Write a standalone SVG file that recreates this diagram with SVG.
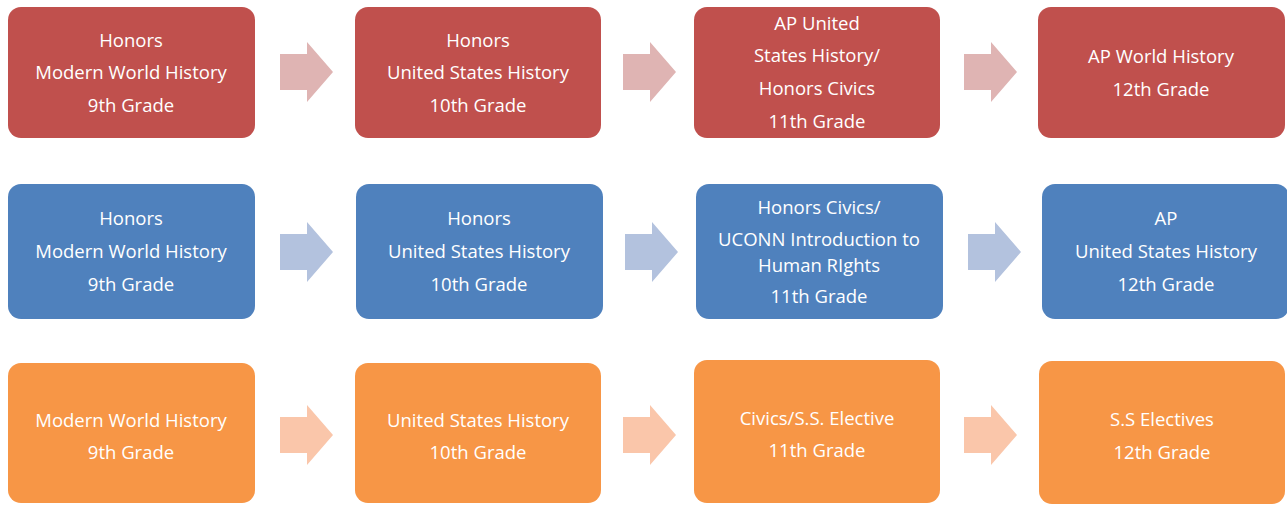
<svg xmlns="http://www.w3.org/2000/svg" width="1287" height="506" viewBox="0 0 1287 506">
<defs>
<style>
text{font-family:"Open Sans","Liberation Sans",sans-serif;font-size:18.5px;fill:#fff;text-anchor:middle}
.r{fill:#C0504D}.b{fill:#4F81BD}.o{fill:#F79646}
.ar{fill:#DFB4B3}.ab{fill:#B3C2DE}.ao{fill:#FAC6AA}
</style>
<path id="arr" d="M0,12 H27 V0 L53,30 L27,60 V48 H0 Z"/>
</defs>
<rect width="1287" height="506" fill="#fff"/>
<g id="connectors">
<use href="#arr" class="ar" transform="translate(280,42)"/>
<use href="#arr" class="ar" transform="translate(623,42)"/>
<use href="#arr" class="ar" transform="translate(964,42)"/>
<use href="#arr" class="ab" transform="translate(280,222)"/>
<use href="#arr" class="ab" transform="translate(625,222)"/>
<use href="#arr" class="ab" transform="translate(968,222)"/>
<use href="#arr" class="ao" transform="translate(280,405)"/>
<use href="#arr" class="ao" transform="translate(623,405)"/>
<use href="#arr" class="ao" transform="translate(964,405)"/>
</g>
<g id="r1c1"><rect class="r" x="8" y="7" width="247" height="131" rx="13"/><text x="131" y="46.5">Honors</text><text x="131" y="79">Modern World History</text><text x="131" y="111.5">9th Grade</text></g>
<g id="r1c2"><rect class="r" x="355" y="7" width="246" height="131" rx="13"/><text x="478" y="46.5">Honors</text><text x="478" y="79">United States History</text><text x="478" y="111.5">10th Grade</text></g>
<g id="r1c3"><rect class="r" x="694" y="7" width="246" height="131" rx="13"/><text x="817" y="29.5">AP United</text><text x="817" y="62">States History/</text><text x="817" y="94.5">Honors Civics</text><text x="817" y="127.5">11th Grade</text></g>
<g id="r1c4"><rect class="r" x="1038" y="7" width="247" height="131" rx="13"/><text x="1161" y="62.5">AP World History</text><text x="1161" y="95.5">12th Grade</text></g>
<g id="r2c1"><rect class="b" x="8" y="184" width="247" height="135" rx="13"/><text x="131" y="224.5">Honors</text><text x="131" y="257.5">Modern World History</text><text x="131" y="290.5">9th Grade</text></g>
<g id="r2c2"><rect class="b" x="356" y="184" width="247" height="135" rx="13"/><text x="479" y="224.5">Honors</text><text x="479" y="257.5">United States History</text><text x="479" y="290.5">10th Grade</text></g>
<g id="r2c3"><rect class="b" x="696" y="184" width="247" height="135" rx="13"/><text x="819" y="213.5">Honors Civics/</text><text x="819" y="245.5">UCONN Introduction to</text><text x="819" y="271.5">Human RIghts</text><text x="819" y="302.5">11th Grade</text></g>
<g id="r2c4"><rect class="b" x="1042" y="184" width="247" height="135" rx="13"/><text x="1166" y="224.5">AP</text><text x="1166" y="257.5">United States History</text><text x="1166" y="290.5">12th Grade</text></g>
<g id="r3c1"><rect class="o" x="8" y="363" width="247" height="140" rx="13"/><text x="131" y="426.5">Modern World History</text><text x="131" y="458.5">9th Grade</text></g>
<g id="r3c2"><rect class="o" x="355" y="363" width="246" height="140" rx="13"/><text x="478" y="426.5">United States History</text><text x="478" y="458.5">10th Grade</text></g>
<g id="r3c3"><rect class="o" x="694" y="360" width="246" height="143" rx="13"/><text x="817" y="424.5">Civics/S.S. Elective</text><text x="817" y="456.5">11th Grade</text></g>
<g id="r3c4"><rect class="o" x="1039" y="361" width="246" height="143" rx="13"/><text x="1162" y="425.5">S.S Electives</text><text x="1162" y="458.5">12th Grade</text></g>
</svg>
